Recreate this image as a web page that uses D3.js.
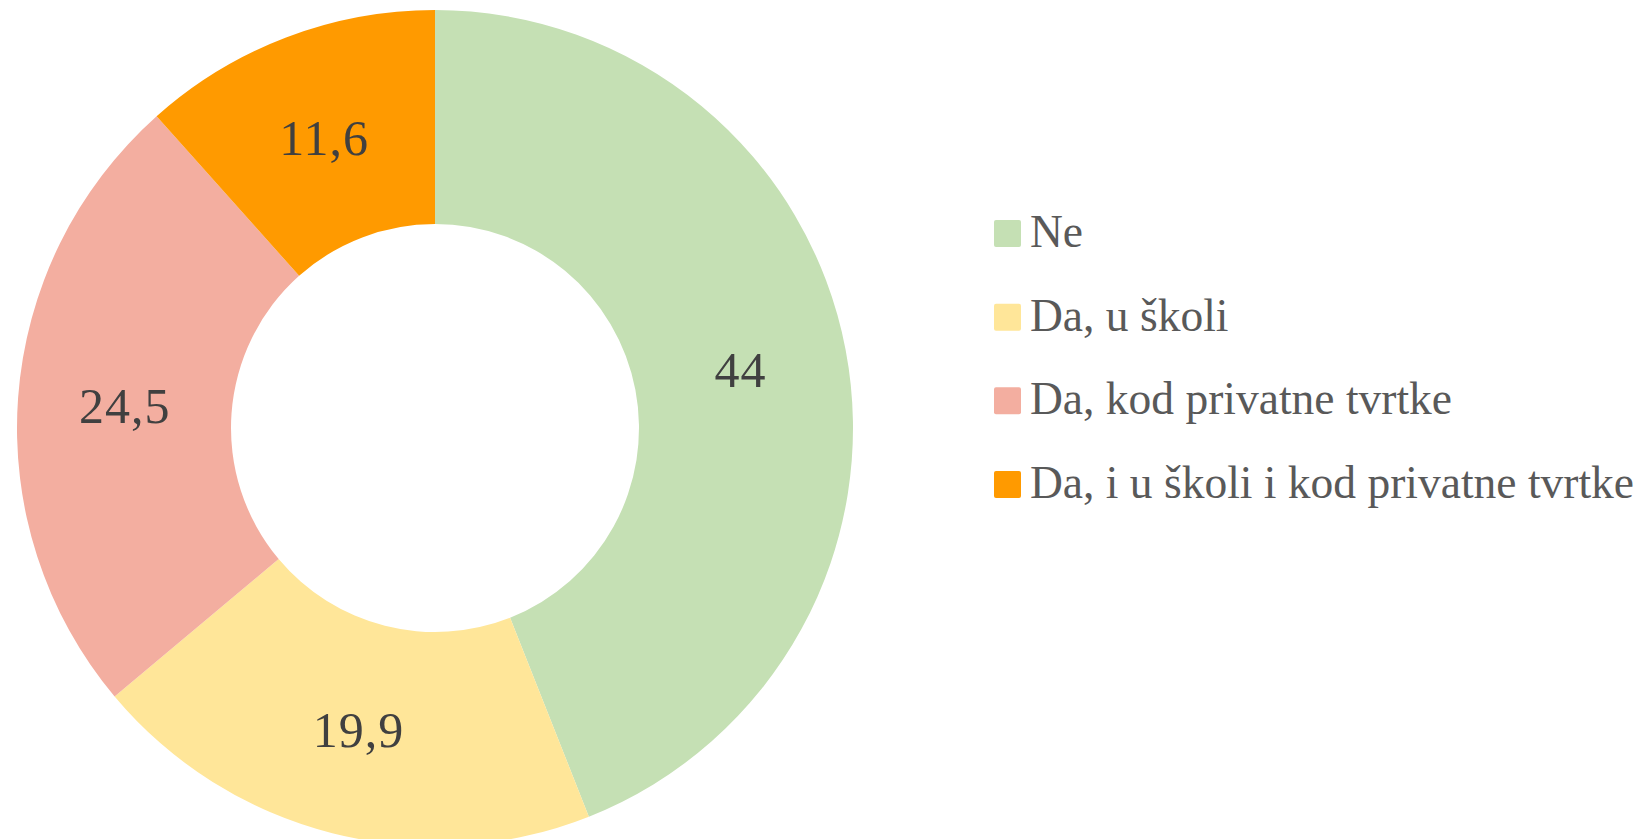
<!DOCTYPE html>
<html>
<head>
<meta charset="utf-8">
<script src="https://cdn.jsdelivr.net/npm/d3@7"></script>
<style>
  html, body { margin: 0; padding: 0; background: #fff; }
  svg { display: block; }
</style>
</head>
<body>
<div id="chart"></div>
<script>
// chart data
const categories = ["Ne", "Da, u školi", "Da, kod privatne tvrtke", "Da, i u školi i kod privatne tvrtke"];
const values = [44, 19.9, 24.5, 11.6];
const valueLabels = ["44", "19,9", "24,5", "11,6"];
const colors = ["#C5E0B4", "#FFE699", "#F3AEA0", "#FF9A00"];

const width = 1644, height = 839;
const center = { x: 435, y: 428 };
const outerR = 418, innerR = 204;

const svg = d3.select("#chart")
    .append("svg")
    .attr("width", width)
    .attr("height", height);

const rows = categories.map(function(c, i) {
    return { name: c, value: values[i], label: valueLabels[i], color: colors[i] };
});

const pie = d3.pie()
    .sort(null)
    .value(function(d) { return d.value; });

const arc = d3.arc()
    .innerRadius(innerR)
    .outerRadius(outerR);

const g = svg.append("g")
    .attr("transform", "translate(" + center.x + "," + center.y + ")");

const arcs = pie(rows);

// slices
g.selectAll("path")
    .data(arcs)
    .enter()
    .append("path")
    .attr("d", arc)
    .attr("fill", function(d) { return d.data.color; });

// data labels in the middle of the ring
g.selectAll("text.val")
    .data(arcs)
    .enter()
    .append("text")
    .attr("class", "val")
    .attr("x", function(d) { return arc.centroid(d)[0]; })
    .attr("y", function(d) { return arc.centroid(d)[1]; })
    .attr("text-anchor", "middle")
    .attr("dy", "0.35em")
    .style("font-family", "'Liberation Serif', 'DejaVu Serif', serif")
    .style("font-size", "50px")
    .style("letter-spacing", "1px")
    .attr("fill", "#404040")
    .text(function(d) { return d.data.label; });

// legend
const legendY = d3.scalePoint()
    .domain(categories)
    .range([220, 471]);

const legend = svg.append("g")
    .selectAll("g")
    .data(rows)
    .enter()
    .append("g")
    .attr("transform", function(d) { return "translate(994," + legendY(d.name) + ")"; });

legend.append("rect")
    .attr("width", 27)
    .attr("height", 27)
    .attr("rx", 2)
    .attr("fill", function(d) { return d.color; });

legend.append("text")
    .attr("x", 36)
    .attr("y", 27)
    .style("font-family", "'Liberation Serif', 'DejaVu Serif', serif")
    .style("font-size", "45.5px")
    .attr("fill", "#595959")
    .text(function(d) { return d.name; });
</script>
</body>
</html>
